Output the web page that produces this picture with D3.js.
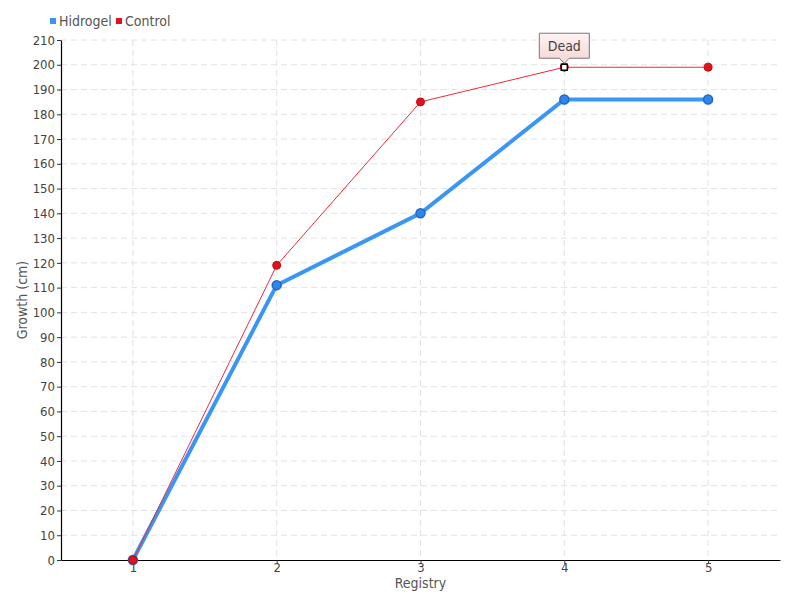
<!DOCTYPE html>
<html>
<head>
<meta charset="utf-8">
<script src="https://cdn.jsdelivr.net/npm/d3@7"></script>
<style>
  body { margin: 0; background: #fff; }
  text { font-family: "DejaVu Sans Condensed", "DejaVu Sans", sans-serif; font-stretch: condensed; }
</style>
</head>
<body>
<script>
// Chart data
var registry = [1, 2, 3, 4, 5];
var hidrogel = [0, 111, 140, 186, 186];
var control = [0, 119, 185, 199, 199];
var yTicks = d3.range(0, 211, 10);
var note = {series: "Control", index: 3, label: "Dead"};

var svgWidth = 800;
var svgHeight = 600;
var margin = {top: 40, right: 20, bottom: 40, left: 61};
var width = svgWidth - margin.left - margin.right;
var height = svgHeight - margin.top - margin.bottom;

var svg = d3.select("body")
  .append("svg")
  .attr("width", svgWidth)
  .attr("height", svgHeight);

var defs = svg.append("defs");
var grad = defs.append("linearGradient")
  .attr("id", "noteGrad")
  .attr("x1", 0).attr("y1", 0).attr("x2", 0).attr("y2", 1);
grad.append("stop").attr("offset", "0%").attr("stop-color", "#fdf3f3");
grad.append("stop").attr("offset", "100%").attr("stop-color", "#f8d4d4");

var chartGroup = svg.append("g")
  .attr("transform", `translate(${margin.left}, ${margin.top})`);

var xScale = d3.scaleLinear().domain([0.5, 5.5]).range([0, width]);
var yScale = d3.scaleLinear().domain([0, 210]).range([height, 0]);

// grid lines
chartGroup.append("g")
  .selectAll("line")
  .data(yTicks.slice(1))
  .enter()
  .append("line")
  .attr("x1", 0).attr("x2", width)
  .attr("y1", d => yScale(d)).attr("y2", d => yScale(d))
  .attr("stroke", "#e2e2e2")
  .attr("stroke-dasharray", "6,4");

chartGroup.append("g")
  .selectAll("line")
  .data(registry)
  .enter()
  .append("line")
  .attr("x1", d => xScale(d)).attr("x2", d => xScale(d))
  .attr("y1", 0).attr("y2", height)
  .attr("stroke", "#e2e2e2")
  .attr("stroke-dasharray", "6,4");

// axes
var bottomAxis = d3.axisBottom(xScale).tickValues(registry).tickSize(4).tickSizeOuter(0).tickFormat(d3.format("d"));
var leftAxis = d3.axisLeft(yScale).tickValues(yTicks).tickSize(4).tickSizeOuter(0);

var xAxisG = chartGroup.append("g")
  .attr("transform", `translate(0, ${height})`)
  .call(bottomAxis);
var yAxisG = chartGroup.append("g")
  .call(leftAxis);

[xAxisG, yAxisG].forEach(function(g) {
  g.select(".domain").attr("stroke", "#000").attr("stroke-width", 1.2);
  g.selectAll(".tick line").attr("stroke", "#333");
  g.selectAll(".tick text").attr("fill", "#444").style("font-size", "13px");
});
xAxisG.selectAll(".tick text").attr("y", 2).attr("dy", "0.75em");
yAxisG.selectAll(".tick text").attr("x", -6);

// lines
var line = d3.line()
  .x((d, i) => xScale(registry[i]))
  .y(d => yScale(d));

chartGroup.append("path")
  .datum(hidrogel)
  .attr("fill", "none")
  .attr("stroke", "#3a96f5")
  .attr("stroke-width", 4)
  .attr("d", line);

chartGroup.append("path")
  .datum(control)
  .attr("fill", "none")
  .attr("stroke", "#ee2a36")
  .attr("stroke-width", 1)
  .attr("d", line);

chartGroup.selectAll(".hPoint")
  .data(hidrogel)
  .enter()
  .append("circle")
  .attr("class", "hPoint")
  .attr("cx", (d, i) => xScale(registry[i]))
  .attr("cy", d => yScale(d))
  .attr("r", 4.5)
  .attr("fill", "#2f86ea")
  .attr("stroke", "#2466c2")
  .attr("stroke-width", 1.5);

chartGroup.selectAll(".cPoint")
  .data(control)
  .enter()
  .append("circle")
  .attr("class", "cPoint")
  .attr("cx", (d, i) => xScale(registry[i]))
  .attr("cy", d => yScale(d))
  .attr("r", 4)
  .attr("fill", "#e3101e")
  .attr("stroke", "#c40812")
  .attr("stroke-width", 1);

// annotation
var nx = xScale(registry[note.index]);
var ny = yScale(control[note.index]);
chartGroup.append("rect")
  .attr("x", nx - 3).attr("y", ny - 3)
  .attr("width", 6).attr("height", 6)
  .attr("fill", "#fff")
  .attr("stroke", "#000")
  .attr("stroke-width", 1.5);

var boxW = 50, boxH = 25;
var bx = nx - boxW / 2, by = ny - 34;
var boxPath = `M${bx},${by} h${boxW} v${boxH} h${-(boxW / 2 - 5)} l-5,5 l-5,-5 h${-(boxW / 2 - 5)} Z`;
chartGroup.append("path")
  .attr("d", boxPath)
  .attr("fill", "url(#noteGrad)")
  .attr("stroke", "#777")
  .attr("stroke-width", 1);
chartGroup.append("text")
  .attr("x", nx)
  .attr("y", by + boxH / 2 + 5)
  .attr("text-anchor", "middle")
  .attr("fill", "#444")
  .style("font-size", "14px")
  .text(note.label);

// axis titles
chartGroup.append("text")
  .attr("transform", "rotate(-90)")
  .attr("x", -height / 2)
  .attr("y", -34)
  .attr("text-anchor", "middle")
  .attr("fill", "#555")
  .style("font-size", "14px")
  .text("Growth (cm)");

chartGroup.append("text")
  .attr("x", width / 2)
  .attr("y", height + 28)
  .attr("text-anchor", "middle")
  .attr("fill", "#555")
  .style("font-size", "14px")
  .text("Registry");

// legend
var legendItems = [
  {name: "Hidrogel", color: "#3a96f5", x: 50},
  {name: "Control", color: "#e3101e", x: 116}
];
var legend = svg.append("g");
legend.selectAll("rect")
  .data(legendItems)
  .enter()
  .append("rect")
  .attr("x", d => d.x)
  .attr("y", 18)
  .attr("width", 6).attr("height", 6)
  .attr("fill", d => d.color);
legend.selectAll("text")
  .data(legendItems)
  .enter()
  .append("text")
  .attr("x", d => d.x + 9)
  .attr("y", 26)
  .attr("fill", "#555")
  .style("font-size", "14px")
  .text(d => d.name);
</script>
</body>
</html>
